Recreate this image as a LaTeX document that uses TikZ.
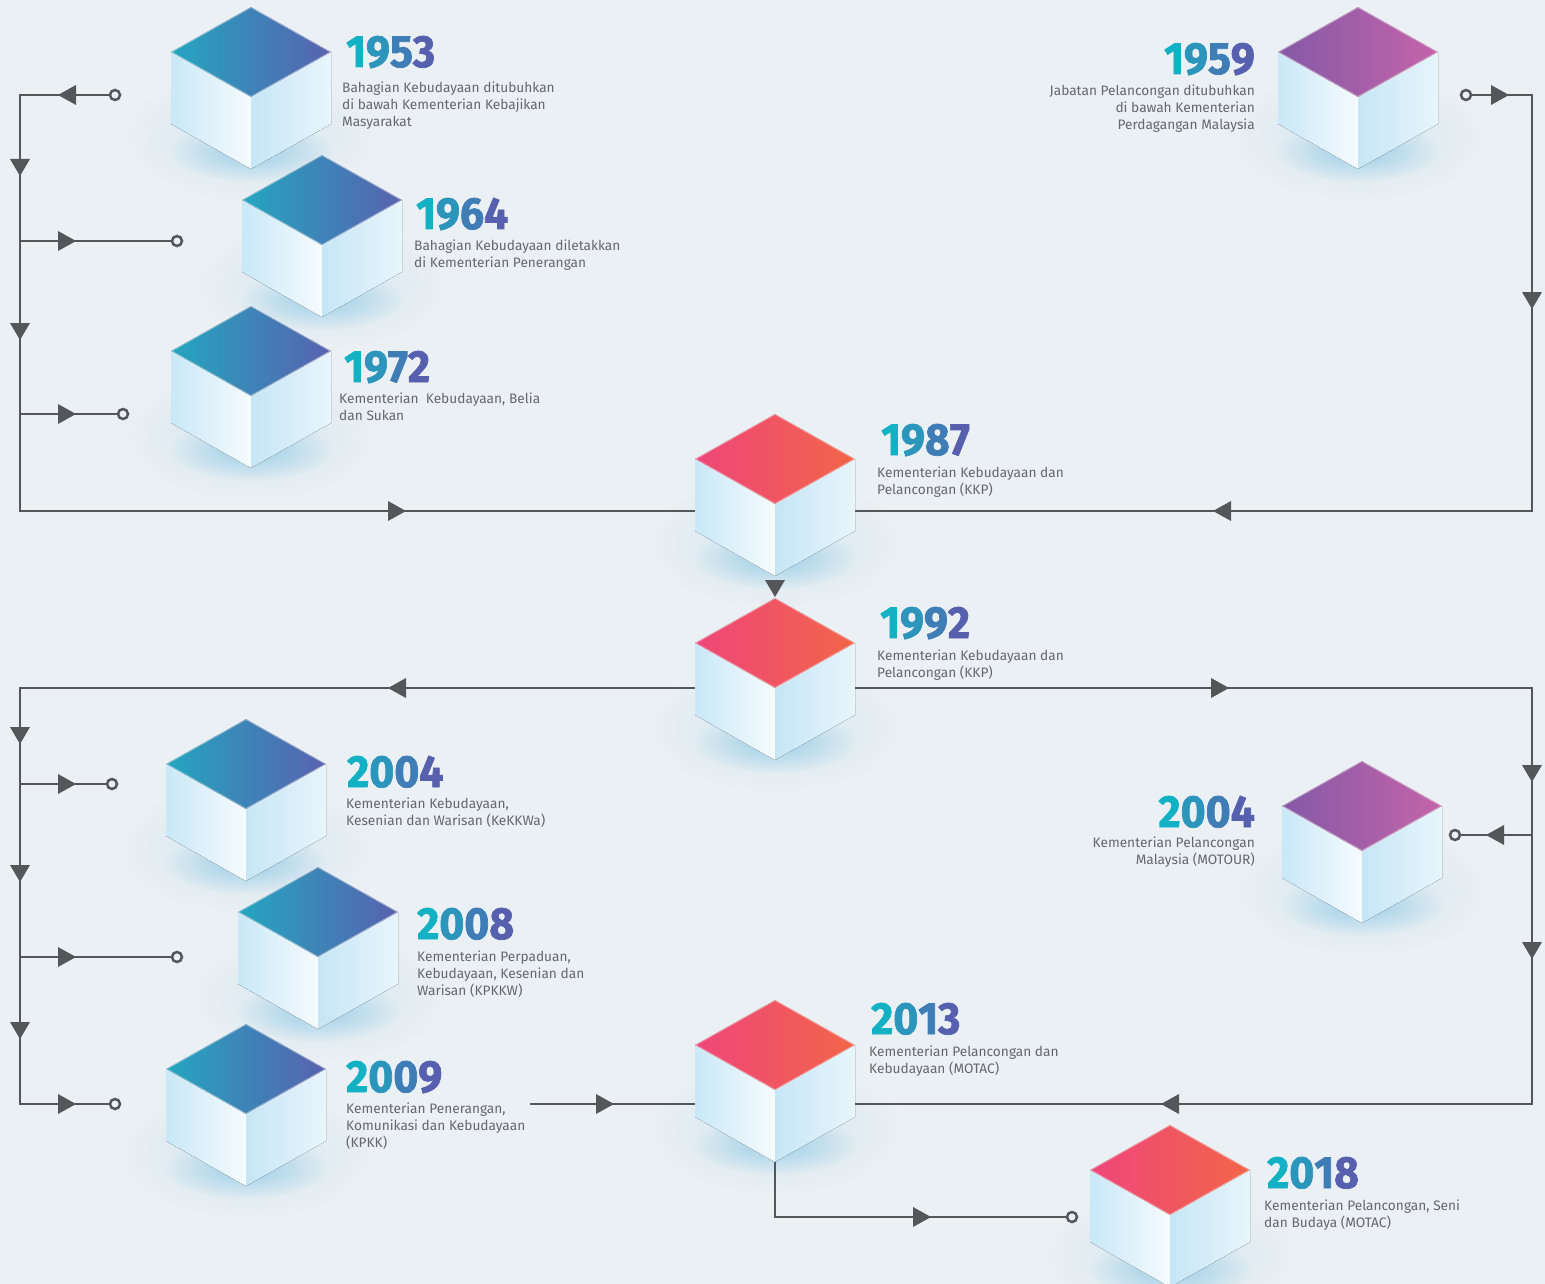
\documentclass[tikz,border=0pt]{standalone}
\usepackage{fontspec}
\setmainfont{Fira Sans}
\newfontfamily\yearfont{Fira Sans}[FakeStretch=0.95, FakeBold=1.6]
\usetikzlibrary{fadings}
\definecolor{bg}{HTML}{EBF0F4}
\definecolor{lc}{HTML}{54565A}
\definecolor{txt}{HTML}{66676A}
\definecolor{glowc}{HTML}{C8E1EE}
\definecolor{glowd}{HTML}{86C6E4}
\definecolor{sideLa}{HTML}{C9E8F8}
\definecolor{sideLb}{HTML}{F6FBFE}
\definecolor{sideRa}{HTML}{C6E6F6}
\definecolor{sideRb}{HTML}{E8F5FC}
\definecolor{tealA}{HTML}{24A6C0}
\definecolor{tealB}{HTML}{5861AF}
\definecolor{pinkA}{HTML}{EF467B}
\definecolor{pinkB}{HTML}{F26548}
\definecolor{purpA}{HTML}{8559A7}
\definecolor{purpB}{HTML}{C464A9}
\definecolor{ya}{HTML}{12B2C4}
\definecolor{yb}{HTML}{2C95BC}
\definecolor{yc}{HTML}{3F7DB6}
\definecolor{yd}{HTML}{5660AE}
\tikzfading[name=glowfade, inner color=transparent!0, outer color=transparent!100]
\newcommand\yr[4]{\textcolor{ya}{#1}\textcolor{yb}{#2}\textcolor{yc}{#3}\textcolor{yd}{#4}}
\newcommand\cubeglow[2]{%
  \fill[glowc, path fading=glowfade, fill opacity=0.65] (#1,#2+130) ellipse (130 and 65);
  \fill[glowd, path fading=glowfade, fill opacity=0.7] (#1,#2+145) ellipse (82 and 30);}
\newcommand\cubebody[5]{%
  \coordinate (#1) at (#2,#3);
  \fill[left color=sideLa, right color=sideLb] (#2-80,#3+45) -- (#2,#3+90) -- (#2,#3+162) -- (#2-80,#3+117) -- cycle;
  \fill[left color=sideRa, right color=sideRb] (#2,#3+90) -- (#2+80,#3+45) -- (#2+80,#3+117) -- (#2,#3+162) -- cycle;
  \fill[left color=#4, right color=#5] (#2,#3) -- (#2+80,#3+45) -- (#2,#3+90) -- (#2-80,#3+45) -- cycle;
  \draw[white, draw opacity=0.45, line width=1.6, line join=round] (#2,#3) -- (#2+80,#3+45) -- (#2,#3+90) -- (#2-80,#3+45) -- cycle;}
\newcommand\arrR[2]{\fill[lc] (#1-9,#2-10) -- (#1+9,#2) -- (#1-9,#2+10) -- cycle;}
\newcommand\arrL[2]{\fill[lc] (#1+9,#2-10) -- (#1-9,#2) -- (#1+9,#2+10) -- cycle;}
\newcommand\arrD[2]{\fill[lc] (#1-10,#2-8) -- (#1,#2+9) -- (#1+10,#2-8) -- cycle;}
\tikzset{
  conn/.style={draw=lc, line width=2.9, line join=miter},
  endring/.style={draw=lc, line width=2.5, fill=bg},
  year/.style={inner sep=0, font=\yearfont\bfseries\fontsize{45}{45}\selectfont},
  desc/.style={inner sep=0, text=txt, font=\fontsize{13.7}{17.3}\selectfont}
}
\begin{document}
\begin{tikzpicture}[x=1pt,y=-1pt]
\fill[bg] (0,0) rectangle (1545,1284);
\useasboundingbox (0,0) rectangle (1545,1284);
% glows
\cubeglow{251}{7}\cubeglow{322}{155}\cubeglow{251}{306}\cubeglow{1358}{7}
\cubeglow{775}{414}\cubeglow{775}{598}\cubeglow{246}{719}\cubeglow{318}{867}
\cubeglow{246}{1024}\cubeglow{1362}{761}\cubeglow{775}{1000}\cubeglow{1170}{1125}
% named points
\coordinate (p1) at (115,95);   \coordinate (p1c) at (20,95);
\coordinate (p2) at (20,511);   \coordinate (p3) at (695,511);
\coordinate (b1a) at (20,241);  \coordinate (b1) at (177,241);
\coordinate (b2a) at (20,414);  \coordinate (b2) at (123,414);
\coordinate (q1) at (1466,95);  \coordinate (q1c) at (1532,95);
\coordinate (q2) at (1532,511); \coordinate (q3) at (855,511);
\coordinate (r1) at (695,688);  \coordinate (r1c) at (20,688);
\coordinate (r2) at (20,1104);  \coordinate (r3) at (115,1104);
\coordinate (b3a) at (20,784);  \coordinate (b3) at (112,784);
\coordinate (b4a) at (20,957);  \coordinate (b4) at (177,957);
\coordinate (s1) at (855,688);  \coordinate (s1c) at (1532,688);
\coordinate (s2) at (1532,1104);\coordinate (s3) at (855,1104);
\coordinate (b5a) at (1532,835);\coordinate (b5) at (1455,835);
\coordinate (t1) at (530,1104); \coordinate (t2) at (695,1104);
\coordinate (u1) at (775,1160); \coordinate (u1c) at (775,1217);
\coordinate (u2) at (1072,1217);
% connectors
\draw[conn] (p1) -- (p1c) -- (p2) -- (p3);
\draw[conn] (b1a) -- (b1);
\draw[conn] (b2a) -- (b2);
\draw[conn] (q1) -- (q1c) -- (q2) -- (q3);
\draw[conn] (r1) -- (r1c) -- (r2) -- (r3);
\draw[conn] (b3a) -- (b3);
\draw[conn] (b4a) -- (b4);
\draw[conn] (s1) -- (s1c) -- (s2) -- (s3);
\draw[conn] (b5a) -- (b5);
\draw[conn] (t1) -- (t2);
\draw[conn] (u1) -- (u1c) -- (u2);
% arrowheads
\arrL{67}{95}\arrD{20}{167}\arrD{20}{331}\arrR{67}{241}\arrR{67}{414}\arrR{397}{511}
\arrR{1500}{95}\arrD{1532}{300}\arrL{1222}{511}
\arrD{775}{588}
\arrL{397}{688}\arrD{20}{735}\arrD{20}{873}\arrD{20}{1030}
\arrR{67}{784}\arrR{67}{957}\arrR{67}{1104}
\arrR{1220}{688}\arrD{1532}{773}\arrD{1532}{950}\arrL{1495}{835}\arrL{1170}{1104}
\arrR{605}{1104}\arrR{922}{1217}
% ring ends
\foreach \c in {p1,b1,b2,q1,r3,b3,b4,b5,u2} \draw[endring] (\c) circle (5);
% cubes
\cubebody{k1953}{251}{7}{tealA}{tealB}
\cubebody{k1964}{322}{155}{tealA}{tealB}
\cubebody{k1972}{251}{306}{tealA}{tealB}
\cubebody{k1959}{1358}{7}{purpA}{purpB}
\cubebody{k1987}{775}{414}{pinkA}{pinkB}
\cubebody{k1992}{775}{598}{pinkA}{pinkB}
\cubebody{k2004a}{246}{719}{tealA}{tealB}
\cubebody{k2008}{318}{867}{tealA}{tealB}
\cubebody{k2009}{246}{1024}{tealA}{tealB}
\cubebody{k2004b}{1362}{761}{purpA}{purpB}
\cubebody{k2013}{775}{1000}{pinkA}{pinkB}
\cubebody{k2018}{1170}{1125}{pinkA}{pinkB}
% texts
\node[year, anchor=base west] (y1953) at (346,67) {\yr1953};
\node[desc, anchor=north west, align=left] (d1953) at (342,81.5) {Bahagian Kebudayaan ditubuhkan\\di bawah Kementerian Kebajikan\\Masyarakat};
\node[year, anchor=base west] (y1964) at (416,229) {\yr1964};
\node[desc, anchor=north west, align=left] (d1964) at (414,239.5) {Bahagian Kebudayaan diletakkan\\di Kementerian Penerangan};
\node[year, anchor=base west] (y1972) at (344,382) {\yr1972};
\node[desc, anchor=north west, align=left] (d1972) at (339,392.5) {Kementerian\ \ Kebudayaan, Belia\\dan Sukan};
\node[year, anchor=base east] (y1959) at (1255,74) {\yr1959};
\node[desc, anchor=north east, align=right] (d1959) at (1255,84.5) {Jabatan Pelancongan ditubuhkan\\di bawah Kementerian\\Perdagangan Malaysia};
\node[year, anchor=base west] (y1987) at (881,455) {\yr1987};
\node[desc, anchor=north west, align=left] (d1987) at (877,466.5) {Kementerian Kebudayaan dan\\Pelancongan (KKP)};
\node[year, anchor=base west] (y1992) at (880,638) {\yr1992};
\node[desc, anchor=north west, align=left] (d1992) at (877,649.5) {Kementerian Kebudayaan dan\\Pelancongan (KKP)};
\node[year, anchor=base west] (y2004a) at (347,787) {\yr2004};
\node[desc, anchor=north west, align=left] (d2004a) at (346,797.5) {Kementerian Kebudayaan,\\Kesenian dan Warisan (KeKKWa)};
\node[year, anchor=base west] (y2008) at (417,939) {\yr2008};
\node[desc, anchor=north west, align=left] (d2008) at (417,950.5) {Kementerian Perpaduan,\\Kebudayaan, Kesenian dan\\Warisan (KPKKW)};
\node[year, anchor=base west] (y2009) at (346,1092) {\yr2009};
\node[desc, anchor=north west, align=left] (d2009) at (346,1102.5) {Kementerian Penerangan,\\Komunikasi dan Kebudayaan\\(KPKK)};
\node[year, anchor=base east] (y2004b) at (1255,827) {\yr2004};
\node[desc, anchor=north east, align=right] (d2004b) at (1255,836.5) {Kementerian Pelancongan\\Malaysia (MOTOUR)};
\node[year, anchor=base west] (y2013) at (871,1034) {\yr2013};
\node[desc, anchor=north west, align=left] (d2013) at (869,1045.5) {Kementerian Pelancongan dan\\Kebudayaan (MOTAC)};
\node[year, anchor=base west] (y2018) at (1267,1188) {\yr2018};
\node[desc, anchor=north west, align=left] (d2018) at (1264,1199.5) {Kementerian Pelancongan, Seni\\dan Budaya (MOTAC)};
\end{tikzpicture}
\end{document}
